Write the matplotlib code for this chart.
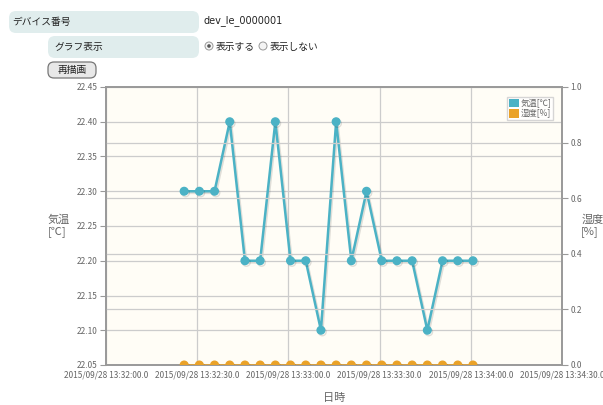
import matplotlib
matplotlib.use('Agg')
import matplotlib.pyplot as plt
import matplotlib.patheffects as pe
from matplotlib.patches import FancyBboxPatch, Circle, Patch
import pandas as pd

plt.rcParams['font.family'] = ['Noto Sans CJK JP', 'DejaVu Sans']

# data
times = pd.date_range('2015-09-28 13:32:25.7', periods=20, freq='5s')
temp = [22.30, 22.30, 22.30, 22.40, 22.20, 22.20, 22.40, 22.20, 22.20, 22.10,
        22.40, 22.20, 22.30, 22.20, 22.20, 22.20, 22.10, 22.20, 22.20, 22.20]
humid = [0.0] * 20
x_ticks = pd.date_range('2015-09-28 13:32:00', periods=6, freq='30s')
x_labels = [t.strftime('%Y/%m/%d %H:%M:%S') + '.0' for t in x_ticks]
temp_ticks = [22.05, 22.10, 22.15, 22.20, 22.25, 22.30, 22.35, 22.40, 22.45]
humid_ticks = [0.0, 0.2, 0.4, 0.6, 0.8, 1.0]
series_names = ['気温[℃]', '湿度[%]']

c_temp = '#4bb2c5'
c_humid = '#eaa228'
txt = '#666666'

fig = plt.figure(figsize=(6.03, 4.05), dpi=100)

# header form (pixel coords overlay)
ov = fig.add_axes([0, 0, 1, 1])
ov.set_xlim(0, 603)
ov.set_ylim(405, 0)
ov.axis('off')
box = '#e0eded'
ov.add_patch(FancyBboxPatch((9, 11), 190, 22, boxstyle='round,pad=0,rounding_size=7',
                            fc=box, ec='none'))
ov.add_patch(FancyBboxPatch((48, 36), 151, 22, boxstyle='round,pad=0,rounding_size=7',
                            fc=box, ec='none'))
ov.text(12, 22, 'デバイス番号', fontsize=7, va='center', color='#222222')
ov.text(54, 47, 'グラフ表示', fontsize=7, va='center', color='#222222')
ov.text(204, 21, 'dev_le_0000001', fontsize=7, va='center', color='#222222',
        family='DejaVu Sans')
ov.add_patch(Circle((209, 46), 4, fc='#f4f4f4', ec='#999999', lw=0.7))
ov.add_patch(Circle((209, 46), 1.8, fc='#555555', ec='none'))
ov.text(216, 47, '表示する', fontsize=7, va='center', color='#222222')
ov.add_patch(Circle((263, 46), 4, fc='#f4f4f4', ec='#999999', lw=0.7))
ov.text(270, 47, '表示しない', fontsize=7, va='center', color='#222222')
ov.add_patch(FancyBboxPatch((48, 62), 48, 16, boxstyle='round,pad=0,rounding_size=6',
                            fc='#e8e8e8', ec='#777777', lw=0.9))
ov.text(72, 70.5, '再描画', fontsize=7, va='center', ha='center', color='#222222')

# chart
ax = fig.add_axes([106 / 603, 1 - 365 / 405, 456 / 603, 278 / 405])
ax.set_facecolor('#fffdf6')
ax2 = ax.twinx()

shadow = [pe.SimpleLineShadow(offset=(1, -1.2), shadow_color='#000000', alpha=0.12, rho=1),
          pe.Normal()]
ax.plot(times, temp, color=c_temp, lw=1.8, marker='o', ms=5.5, mec=c_temp,
        path_effects=shadow, zorder=3)
ax2.plot(times, humid, color=c_humid, lw=1.8, marker='o', ms=5.5, mec=c_humid,
         path_effects=shadow, zorder=3)

ax.set_xlim(x_ticks[0], x_ticks[-1])
ax.set_ylim(22.05, 22.45)
ax2.set_ylim(0, 1.0)
ax.set_xticks(x_ticks)
ax.set_xticklabels(x_labels)
ax.set_yticks(temp_ticks)
ax.set_yticklabels([f'{v:.2f}' for v in temp_ticks])
ax2.set_yticks(humid_ticks)
ax2.set_yticklabels([f'{v:.1f}' for v in humid_ticks])

ax.grid(True, color='#cccccc', lw=0.9)
ax.set_axisbelow(True)
for v in humid_ticks[1:-1]:
    ax2.axhline(v, color='#cccccc', lw=0.9, zorder=0)

for a in (ax, ax2):
    a.tick_params(labelsize=6, colors='#999999', labelcolor=txt, length=4, width=0.8, pad=2)
    for s in a.spines.values():
        s.set_color('#999999')
        s.set_linewidth(1.2)
ax.tick_params(axis='x', length=0, pad=4)

ax.set_ylabel('気温\n[℃]', rotation=0, fontsize=8, color=txt, ha='left', va='center',
              multialignment='left')
ax.yaxis.set_label_coords(-0.128, 0.5)
ax2.set_ylabel('湿度\n[%]', rotation=0, fontsize=8, color=txt, ha='left', va='center',
               multialignment='left')
ax2.yaxis.set_label_coords(1.042, 0.5)
ax.set_xlabel('日時', fontsize=8, color=txt, labelpad=10)

leg = ax2.legend([Patch(fc=c_temp), Patch(fc=c_humid)], series_names, loc='upper right',
                 fontsize=6, frameon=True, fancybox=False, edgecolor='#cccccc',
                 handlelength=1.2, handleheight=1.2, handletextpad=0.2,
                 borderpad=0.25, labelspacing=0.15, bbox_to_anchor=(0.99, 0.98))
for t in leg.get_texts():
    t.set_color(txt)

fig.savefig('out.png', dpi=100)
